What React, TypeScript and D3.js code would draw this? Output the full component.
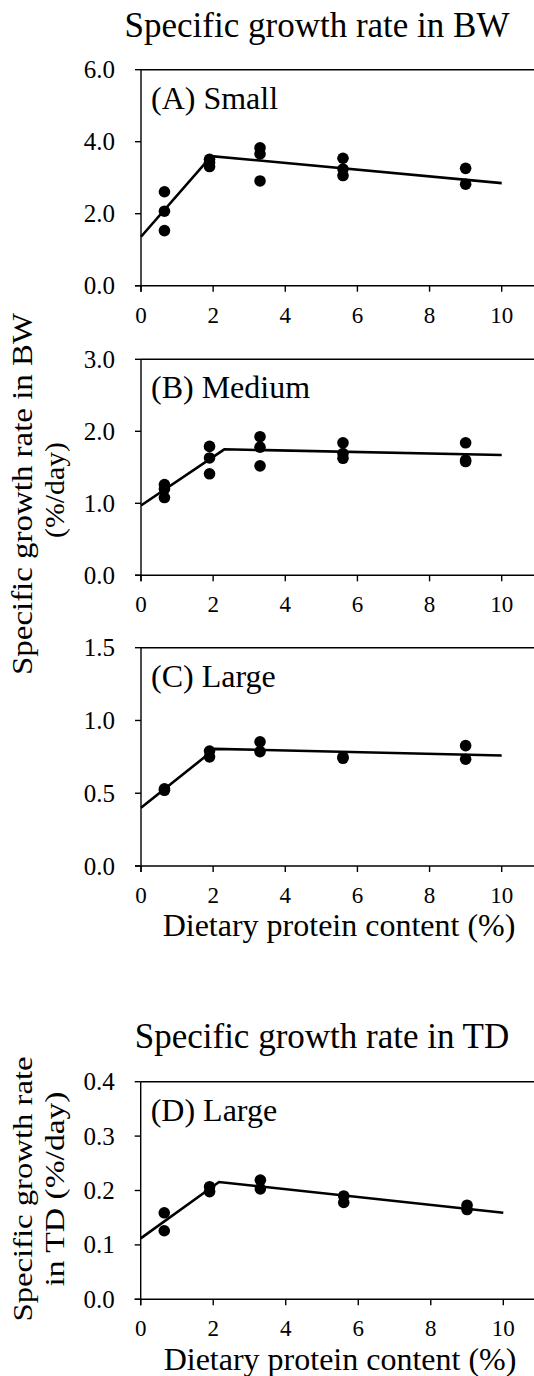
import React from "react";
import * as d3 from "d3";

const xTicks = [0, 2, 4, 6, 8, 10];
const proteinLevels = [0.65, 1.9, 3.3, 5.6, 9.0];

// Panel A (Small) – specific growth rate in BW
const smallValues = [
  [2.61, 2.07, 1.53],
  [3.51, 3.42, 3.31],
  [3.83, 3.66, 2.91],
  [3.54, 3.24, 3.06],
  [3.26, 2.82],
];
const smallFit = [[0, 1.36], [1.95, 3.6], [10, 2.85]];
const smallTicks = [0, 2, 4, 6];

// Panel B (Medium)
const mediumValues = [
  [1.26, 1.2, 1.08],
  [1.79, 1.63, 1.41],
  [1.925, 1.78, 1.52],
  [1.84, 1.69, 1.625],
  [1.84, 1.6, 1.58],
];
const mediumFit = [[0, 0.97], [2.31, 1.75], [10, 1.67]];
const mediumTicks = [0, 1, 2, 3];

// Panel C (Large)
const largeValues = [
  [0.53, 0.52],
  [0.79, 0.75],
  [0.853, 0.786],
  [0.75, 0.74],
  [0.827, 0.734],
];
const largeFit = [[0, 0.4], [2.05, 0.805], [10, 0.759]];
const largeTicks = [0, 0.5, 1.0, 1.5];

// Panel D (Large) – specific growth rate in TD
const tdValues = [
  [0.159, 0.126],
  [0.207, 0.198],
  [0.219, 0.203],
  [0.19, 0.178],
  [0.173, 0.165],
];
const tdFit = [[0, 0.112], [2.16, 0.2156], [10, 0.159]];
const tdTicks = [0, 0.1, 0.2, 0.3, 0.4];

const FONT = "'Liberation Serif', 'Times New Roman', serif";

type PanelProps = {
  label: string;
  values: number[][];
  fit: number[][];
  yTicks: number[];
  left: number;
  right: number;
  top: number;
  bottom: number;
};

function Panel({ label, values, fit, yTicks, left, right, top, bottom }: PanelProps) {
  const x = d3.scaleLinear().domain([0, 10]).range([left, right]);
  const y = d3
    .scaleLinear()
    .domain([0, yTicks[yTicks.length - 1]])
    .range([bottom, top]);
  const line = d3
    .line<number[]>()
    .x((d) => x(d[0]))
    .y((d) => y(d[1]));
  const fmt = d3.format(".1f");
  const pts: [number, number][] = [];
  proteinLevels.forEach((p, i) => values[i].forEach((v) => pts.push([p, v])));
  return (
    <g>
      <line x1={left} x2={534} y1={top} y2={top} stroke="#000" strokeWidth={1.4} />
      <line x1={left - 6} x2={534} y1={bottom} y2={bottom} stroke="#000" strokeWidth={1.4} />
      <line x1={left} x2={left} y1={top} y2={bottom + 6} stroke="#000" strokeWidth={1.4} />
      {yTicks.map((t) => (
        <g key={"y" + t}>
          <line x1={left - 6} x2={left} y1={y(t)} y2={y(t)} stroke="#000" strokeWidth={1.4} />
          <text
            x={left - 26}
            y={y(t)}
            dy="0.34em"
            textAnchor="end"
            fontFamily={FONT}
            fontSize={25}
          >
            {fmt(t)}
          </text>
        </g>
      ))}
      {xTicks.map((t) => (
        <g key={"x" + t}>
          <line x1={x(t)} x2={x(t)} y1={bottom} y2={bottom + 6} stroke="#000" strokeWidth={1.4} />
          <text x={x(t)} y={bottom + 37} textAnchor="middle" fontFamily={FONT} fontSize={23}>
            {t}
          </text>
        </g>
      ))}
      <path d={line(fit) || ""} fill="none" stroke="#000" strokeWidth={2.6} />
      {pts.map((p, i) => (
        <circle key={i} cx={x(p[0])} cy={y(p[1])} r={5.8} fill="#000" />
      ))}
      <text x={left + 10} y={top + 39} fontFamily={FONT} fontSize={32}>
        {label}
      </text>
    </g>
  );
}

export default function App() {
  return (
    <svg
      width={534}
      height={1376}
      style={{ position: "absolute", left: 0, top: 0, background: "#fff" }}
    >
      <rect width={534} height={1376} fill="#fff" />
      <text x={317} y={37} textAnchor="middle" fontFamily={FONT} fontSize={35}>
        Specific growth rate in BW
      </text>
      <Panel label="(A) Small" values={smallValues} fit={smallFit} yTicks={smallTicks} left={141} right={501.7} top={69.7} bottom={285.7} />
      <Panel label="(B) Medium" values={mediumValues} fit={mediumFit} yTicks={mediumTicks} left={141} right={501.7} top={359.3} bottom={575.3} />
      <Panel label="(C) Large" values={largeValues} fit={largeFit} yTicks={largeTicks} left={141} right={501.7} top={647.7} bottom={866} />
      <text x={339} y={936} textAnchor="middle" fontFamily={FONT} fontSize={32}>
        Dietary protein content (%)
      </text>
      <g transform="translate(32,494) rotate(-90)">
        <text x={0} y={0} textAnchor="middle" fontFamily={FONT} fontSize={29} textLength={362} lengthAdjust="spacingAndGlyphs">
          Specific growth rate in BW
        </text>
      </g>
      <g transform="translate(64,490) rotate(-90)">
        <text x={0} y={0} textAnchor="middle" fontFamily={FONT} fontSize={28} textLength={96} lengthAdjust="spacingAndGlyphs">
          (%/day)
        </text>
      </g>

      <text x={322} y={1048} textAnchor="middle" fontFamily={FONT} fontSize={35}>
        Specific growth rate in TD
      </text>
      <Panel label="(D) Large" values={tdValues} fit={tdFit} yTicks={tdTicks} left={140.7} right={503.3} top={1081.7} bottom={1299.3} />
      <text x={340} y={1370} textAnchor="middle" fontFamily={FONT} fontSize={32}>
        Dietary protein content (%)
      </text>
      <g transform="translate(32,1189) rotate(-90)">
        <text x={0} y={0} textAnchor="middle" fontFamily={FONT} fontSize={27} textLength={265} lengthAdjust="spacingAndGlyphs">
          Specific growth rate
        </text>
      </g>
      <g transform="translate(64,1189) rotate(-90)">
        <text x={0} y={0} textAnchor="middle" fontFamily={FONT} fontSize={27} textLength={195} lengthAdjust="spacingAndGlyphs">
          in TD (%/day)
        </text>
      </g>
    </svg>
  );
}
